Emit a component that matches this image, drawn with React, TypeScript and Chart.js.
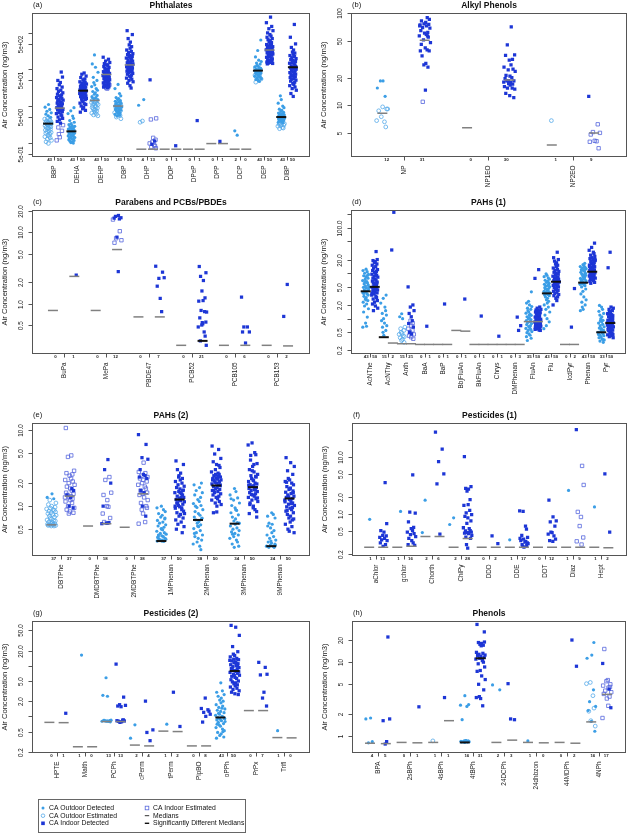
import React, { useEffect, useRef } from 'react';
import { Chart, registerables } from 'chart.js';
Chart.register(...registerables);

const FONT = '"Liberation Sans", Arial, Helvetica, sans-serif';
const COL_OUT = '#3b9ee6';
const COL_OUT_EST = '#55aaea';
const COL_IN = '#1d36d6';
const COL_IN_EST = '#5566dd';
const COL_MED = '#808080';
const COL_SIG = '#111111';

// horizontal jitter pattern (fractions of the jitter half-width)
const JIT = [0.12, -0.85, 0.47, -0.33, 0.91, -0.62, 0.05, 0.74, -0.18, -0.97, 0.36, 0.58, -0.49, 0.83, -0.07, -0.71, 0.22, 0.95, -0.41, 0.64, -0.26, 0.01, -0.88, 0.43, 0.79, -0.55, 0.17, -0.12, 0.69, -0.79, 0.31, -0.36, 0.88, -0.66, 0.52, -0.03, 0.27, -0.92, 0.61, -0.21, 0.98, -0.58, 0.09, 0.41, -0.74, 0.76, -0.45, 0.19, -0.14, 0.55];

// ---------------- (a) Phthalates ----------------
const A_CATS = ['BBP', 'DEHA', 'DEHP', 'DBP', 'DHP', 'DOP', 'DPeP', 'DPP', 'DCP', 'DEP', 'DIBP'];
const A_N_OUT = [43, 43, 43, 43, 4, 0, 0, 0, 2, 43, 43];
const A_N_IN = [50, 50, 50, 50, 13, 1, 1, 1, 0, 50, 50];
const A_OUT_DET = [
  [11, 9.3, 8.1, 7.2, 6.5, 6.0, 5.4, 4.9],
  [9.0, 7.4, 6.2, 5.3, 4.6, 4.0, 3.6, 3.3, 3.1, 2.9, 2.8, 2.7, 2.6, 2.5, 2.45, 2.35, 2.25, 2.2, 2.15, 2.1, 2.05, 2.0, 1.95, 1.9, 1.85, 1.8, 1.72, 1.68, 1.62, 1.58, 1.52, 1.48, 1.44, 1.38, 1.33, 1.28, 1.24, 1.2, 1.15, 1.1, 1.05, 1.0, 0.97],
  [250, 142, 115, 84, 61, 50, 44, 38, 34, 30, 27, 25, 23, 21, 19.5, 18, 17, 16, 15],
  [39, 30, 22, 19, 17, 16, 15, 14, 13.5, 13, 12.5, 12, 11.5, 11, 10.7, 10.4, 10.1, 9.8, 9.5, 9.2, 8.9, 8.6, 8.3, 8, 7.7, 7.4, 7.1, 6.8, 6.5, 6.2, 5.9, 5.6, 5.3],
  [15, 10.5],
  [], [], [],
  [2.1, 1.6],
  [640, 330, 220, 180, 165, 150, 140, 130, 124, 118, 112, 107, 102, 98, 95, 92, 89, 86, 83, 80, 77, 74, 71, 68, 65, 62, 59, 56, 53, 50, 47],
  [19, 15, 12, 10, 9, 8.2, 7.6, 7.1, 6.7, 6.4, 6.1, 5.9, 5.7, 5.5, 5.3, 5.2, 5.1, 5.0, 4.9, 4.8, 4.7, 4.6, 4.5, 4.4, 4.3, 4.2, 4.1, 4.0, 3.9, 3.8, 3.7, 3.6, 3.5],
];
const A_OUT_EST = [
  [4.6, 4.4, 4.2, 4.0, 3.9, 3.7, 3.6, 3.5, 3.4, 3.3, 3.3, 3.2, 3.1, 3.0, 2.9, 2.8, 2.7, 2.6, 2.5, 2.4, 2.3, 2.2, 2.1, 2.0, 1.9, 1.8, 1.7, 1.6, 1.5, 1.45, 1.35, 1.25, 1.15, 1.05, 0.95],
  [],
  [14.5, 14, 13.5, 13, 12.5, 12, 11.5, 11, 10.5, 10, 9.6, 9.2, 8.8, 8.4, 8, 7.6, 7.2, 6.8, 6.4, 6, 5.7, 5.4, 14.2, 12.8],
  [10, 9, 8.5, 7.5, 7, 6.6, 6, 5.5, 5, 4.5],
  [3.9, 3.6],
  [], [], [], [],
  [110, 100, 96, 90, 85, 80, 75, 70, 66, 60, 55, 45],
  [3.4, 3.3, 3.2, 3.1, 3.0, 2.9, 2.8, 2.6, 2.5, 2.4],
];
const A_IN_DET = [
  [85, 62, 50, 44, 38, 33, 30, 27, 25, 23, 21, 20, 19, 18, 17, 16, 15, 14.5, 14, 13, 12.5, 12, 11.5, 11, 10.5, 10, 9.7, 9.3, 9, 8.7, 8.4, 8.1, 7.8, 7.4, 7, 6.6, 6.2, 5.8, 5.4, 5, 4.6, 4.2, 3.8, 3.4],
  [80, 74, 66, 60, 55, 52, 49, 46, 44, 42, 40, 38, 37, 35, 34, 33, 32, 31, 30, 29, 28.5, 28, 27, 26.5, 26, 25, 24.5, 24, 23, 22, 21.5, 21, 20, 19, 18.5, 18, 17, 16, 15.5, 15, 14, 13, 12, 11.5, 11, 10, 9.2, 8.4, 7.6, 6.8],
  [216, 190, 170, 155, 145, 135, 128, 120, 114, 108, 103, 98, 94, 90, 87, 84, 81, 78, 76, 74, 72, 70, 68, 66, 64, 62, 60, 58, 56, 54, 52, 50, 48, 46, 45, 43, 41, 40, 38, 36, 35, 34, 33, 32],
  [1150, 900, 700, 560, 470, 420, 380, 340, 310, 290, 270, 255, 240, 228, 216, 205, 195, 185, 176, 168, 160, 152, 145, 140, 135, 130, 126, 122, 118, 114, 110, 106, 102, 98, 94, 90, 86, 82, 78, 74, 70, 66, 62, 58, 54, 50, 46, 42, 36, 31],
  [52, 1.1, 0.9],
  [0.82],
  [4.0],
  [1.08],
  [],
  [2700, 1900, 1500, 1300, 1150, 1000, 900, 820, 760, 700, 650, 610, 570, 540, 510, 480, 460, 440, 420, 400, 385, 370, 355, 345, 335, 325, 315, 305, 295, 285, 275, 265, 255, 245, 235, 225, 215, 205, 195, 185, 178, 170, 165, 160, 155, 150, 146, 142, 520, 390],
  [1700, 760, 500, 400, 340, 300, 280, 260, 240, 225, 210, 198, 186, 175, 165, 156, 148, 140, 133, 126, 120, 115, 110, 106, 102, 98, 94, 90, 86, 82, 78, 75, 72, 69, 66, 63, 60, 57, 54, 51, 48, 45, 42, 39, 36, 33, 30, 27, 22, 18.3],
];
const A_IN_EST = [
  [3.0, 2.6, 2.1, 1.7, 1.4, 1.15],
  [],
  [42, 38, 35, 33, 31, 30],
  [],
  [4.6, 4.3, 1.35, 1.2, 1.05, 0.95, 0.85, 0.8, 0.75, 0.7],
  [], [], [], [], [], [],
];
const A_MED_OUT = [3.3, 2.03, 14.2, 10, 0.66, 0.66, 0.66, 0.94, 0.66, 93, 5];
const A_MED_IN = [8.8, 26.3, 73, 133, 0.66, 0.66, 0.66, 0.94, 0.66, 340, 115];
const A_SIG_OUT = [1, 1, 0, 0, 0, 0, 0, 0, 0, 1, 1];
const A_SIG_IN = [0, 1, 0, 0, 0, 0, 0, 0, 0, 0, 1];
const A_Y_TICKS = [0.5, 1, 5, 10, 50, 100, 500, 1000];
const A_Y_LABELS = ['5e-01', '', '5e+00', '', '5e+01', '', '5e+02', ''];

// ---------------- (b) Alkyl Phenols ----------------
const B_CATS = ['NP', 'NP1EO', 'NP2EO'];
const B_N_OUT = [12, 0, 1];
const B_N_IN = [31, 30, 9];
const B_OUT_DET = [[18.4, 15.4, 12.5, 18.4], [], []];
const B_OUT_EST = [[9.1, 8.7, 9.6, 9.1, 7.5, 6.8, 6.6, 5.8], [], [6.8]];
const B_IN_DET = [
  [90, 86, 83, 80, 77, 76, 75, 73, 70, 69, 65, 62, 61, 59, 57, 55, 51.5, 48, 46, 42, 40, 39, 39, 34.5, 28.5, 27.5, 26, 14.6, 73, 57],
  [71.5, 45.5, 35.4, 35, 31.5, 31, 27.5, 26, 24.8, 24.3, 23.4, 21.2, 20.7, 20, 19.5, 18.4, 18.4, 17.7, 17.2, 17, 16.6, 15.9, 15.4, 15.4, 15, 13.5, 12.7, 12.1, 18.4, 17.8],
  [12.5],
];
const B_IN_EST = [[10.9], [], [6.2, 5.1, 5.0, 4.8, 4.1, 4.05, 4.0, 3.4]];
const B_MED_OUT = [8.2, 5.7, 3.7];
const B_MED_IN = [51, 18.8, 5.0];
const B_SIG_OUT = [0, 0, 0];
const B_SIG_IN = [0, 0, 0];
const B_Y_TICKS = [5, 10, 20, 50, 100];
const B_Y_LABELS = ['5', '10', '20', '50', '100'];

// ---------------- (c) Parabens and PCBs/PBDEs ----------------
const C_CATS = ['BuPa', 'MePa', 'PBDE47', 'PCB52', 'PCB105', 'PCB153'];
const C_N_OUT = [0, 0, 0, 0, 0, 0];
const C_N_IN = [1, 12, 7, 21, 6, 2];
const C_OUT_DET = [[], [], [], [], [], []];
const C_OUT_EST = [[], [], [], [], [], []];
const C_IN_DET = [
  [2.5],
  [17.1, 16.6, 15.9, 15.7, 15.3, 8.5, 2.8],
  [3.33, 2.75, 2.25, 2.3, 1.75, 1.18, 0.77],
  [3.3, 2.7, 2.4, 2.1, 1.5, 1.2, 1.1, 1.08, 0.77, 0.8, 0.76, 0.63, 0.52, 0.55, 0.5, 0.47, 0.4, 0.35, 0.3, 0.26, 0.54],
  [1.23, 0.47, 0.47, 0.4, 0.4, 0.28],
  [1.85, 0.66],
];
const C_IN_EST = [[], [15, 10.3, 8.2, 7.7, 7.1], [], [], [], []];
const C_MED_OUT = [0.8, 0.8, 0.65, 0.26, 0.26, 0.26];
const C_MED_IN = [2.4, 5.7, 0.65, 0.3, 0.26, 0.255];
const C_SIG_OUT = [0, 0, 0, 0, 0, 0];
const C_SIG_IN = [0, 0, 0, 1, 0, 0];
const C_Y_TICKS = [0.5, 1, 2, 5, 10, 20];
const C_Y_LABELS = ['0.5', '1.0', '2.0', '5.0', '10.0', '20.0'];

// ---------------- (d) PAHs (1) ----------------
const D_CATS = ['AcNThe', 'AcNThy', 'Anth', 'BaA', 'BaP', 'BbjFluAn', 'BkFluAn', 'Chrys', 'DMPhenan', 'FluAn', 'Flu', 'IcdPyr', 'Phenan', 'Pyr'];
const D_N_OUT = [43, 15, 15, 0, 0, 0, 0, 0, 0, 35, 43, 0, 43, 33];
const D_N_IN = [50, 2, 21, 1, 1, 1, 1, 1, 3, 50, 50, 2, 50, 50];
const D_OUT_DET = [
  [12.3, 11.5, 10.8, 10, 9.4, 8.8, 8.3, 7.8, 7.3, 6.9, 6.5, 6.1, 5.8, 5.5, 5.2, 4.9, 4.7, 4.5, 4.3, 4.1, 4.0, 3.9, 3.7, 3.5, 3.3, 3.1, 2.9, 2.7, 2.5, 2.3, 2.1, 1.9, 1.65, 1.4, 1.08, 0.8, 0.68, 0.65, 9, 6.3, 5, 3.6, 2.6],
  [3.3, 2.8, 2.2, 1.8, 1.5, 1.3, 1.2, 1.0, 0.9, 0.8, 0.7, 0.65, 0.55, 0.5, 0.43],
  [1.28, 1.1, 1.0],
  [], [], [], [], [], [],
  [3.9, 2.4, 2.2, 2.0, 1.85, 1.7, 1.6, 1.5, 1.4, 1.32, 1.25, 1.18, 1.1, 1.05, 1.0, 0.95, 0.9, 0.86, 0.82, 0.78, 0.74, 0.7, 0.67, 0.64, 0.61, 0.58, 0.55, 0.52, 0.49, 0.46, 0.43, 0.4, 0.37, 0.33, 1.2],
  [9.7, 9, 8.4, 7.9, 7.4, 7, 6.6, 6.3, 6, 5.7, 5.4, 5.2, 5, 4.8, 4.6, 4.4, 4.2, 4.0, 3.9, 3.8, 3.7, 3.6, 3.5, 3.4, 3.3, 3.2, 3.0, 2.8, 2.6, 2.4, 2.2, 2.0, 1.8, 1.6, 1.4, 1.2, 1.0, 0.85, 0.7, 0.6, 6.5, 5.5, 4.5],
  [],
  [16.5, 15.5, 14.5, 14, 13.5, 13, 12.5, 12, 11.5, 11, 10.5, 10, 9.6, 9.2, 8.8, 8.4, 8, 7.7, 7.4, 7.1, 6.8, 6.5, 6.3, 6.1, 5.9, 5.7, 5.5, 5.3, 5.0, 4.5, 4.0, 3.5, 3.0, 2.6, 2.3, 2.0, 1.8, 1.6, 1.5, 12, 9, 7, 6],
  [1.95, 1.8, 1.6, 1.45, 1.3, 1.2, 1.1, 1.0, 0.92, 0.85, 0.8, 0.75, 0.7, 0.66, 0.62, 0.58, 0.55, 0.52, 0.5, 0.48, 0.46, 0.44, 0.42, 0.4, 0.38, 0.36, 0.34, 0.32, 0.3, 0.9, 0.6, 0.45, 0.35],
];
const D_OUT_EST = [
  [], [],
  [0.65, 0.6, 0.55, 0.5, 0.47, 0.45, 0.42, 0.4, 0.38, 0.35, 0.33, 0.3],
  [], [], [], [], [], [], [], [], [], [], [],
];
const D_IN_DET = [
  [30, 20, 19, 18, 17, 16, 15, 14, 13, 12, 11.5, 11, 10.5, 10, 9.5, 9, 8.6, 8.2, 7.8, 7.4, 7, 6.7, 6.4, 6.1, 5.8, 5.5, 5.3, 5.1, 4.9, 4.7, 4.5, 4.3, 4.1, 3.9, 3.7, 3.5, 3.3, 3.1, 2.9, 2.7, 2.5, 2.3, 2.1, 1.9, 1.7, 1.5, 6, 5.2, 4.4, 3.6],
  [220, 32.5],
  [5.0, 2.0, 1.8, 1.5, 1.3, 1.1, 0.9, 0.78, 0.65, 0.5, 0.46],
  [0.68],
  [2.1],
  [2.7],
  [1.14],
  [0.41],
  [1.08, 0.7, 0.55],
  [12, 7.7, 1.8, 1.7, 1.6, 1.55, 1.5, 1.45, 1.4, 1.35, 1.3, 1.25, 1.2, 1.16, 1.12, 1.08, 1.04, 1.0, 0.97, 0.94, 0.91, 0.88, 0.86, 0.84, 0.82, 0.8, 0.78, 0.76, 0.74, 0.72, 0.7, 0.68, 0.66, 0.64, 0.62, 0.6, 0.58, 0.56, 0.55, 1.1, 0.95, 0.85, 0.75, 0.65, 1.28, 1.02, 0.9, 0.8, 0.7, 0.6],
  [29, 22, 20, 18.5, 17, 16, 15, 14, 13, 12.2, 11.5, 11, 10.5, 10, 9.5, 9, 8.6, 8.2, 7.9, 7.6, 7.3, 7, 6.8, 6.6, 6.4, 6.2, 6, 5.8, 5.6, 5.4, 5.2, 5, 4.8, 4.6, 4.4, 4.2, 4, 3.8, 3.6, 3.4, 3.2, 3, 2.8, 2.5, 2.0, 8, 7, 6.5, 5.5, 4.5],
  [4.6, 0.65],
  [46, 37, 32, 29, 27, 25, 23.5, 22, 21, 20, 19, 18, 17.2, 16.5, 15.8, 15.1, 14.5, 13.9, 13.3, 12.8, 12.3, 11.8, 11.4, 11, 10.6, 10.2, 9.9, 9.6, 9.3, 9, 8.7, 8.4, 8.1, 7.8, 7.5, 7.2, 6.9, 6.6, 6.3, 6.0, 12, 11, 10, 9, 14, 16, 18, 20, 8.5, 7.6],
  [29, 13.2, 1.8, 1.7, 1.6, 1.5, 1.42, 1.35, 1.28, 1.22, 1.16, 1.1, 1.05, 1.0, 0.96, 0.92, 0.88, 0.85, 0.82, 0.8, 0.78, 0.76, 0.74, 0.72, 0.7, 0.68, 0.66, 0.64, 0.62, 0.6, 0.58, 0.56, 0.54, 0.52, 0.5, 0.48, 0.46, 0.44, 0.42, 0.4, 0.38, 1.3, 1.15, 1.0, 0.9, 0.8, 0.7, 0.65, 0.55, 0.45],
];
const D_IN_EST = [
  [], [],
  [0.9, 0.8, 0.7, 0.6, 0.55, 0.5, 0.45, 0.42, 0.39, 0.36],
  [], [], [], [], [], [], [], [], [], [], [],
];
const D_MED_OUT = [4.0, 0.39, 0.28, 0.27, 0.27, 0.55, 0.27, 0.27, 0.27, 0.86, 3.6, 0.27, 6.2, 0.5];
const D_MED_IN = [5.0, 0.29, 0.28, 0.27, 0.27, 0.53, 0.27, 0.27, 0.27, 0.86, 6.5, 0.27, 10.8, 0.8];
const D_SIG_OUT = [1, 1, 0, 0, 0, 0, 0, 0, 0, 0, 1, 0, 1, 1];
const D_SIG_IN = [1, 0, 0, 0, 0, 0, 0, 0, 0, 0, 1, 0, 1, 1];
const D_Y_TICKS = [0.2, 0.5, 1, 2, 5, 10, 20, 50, 100, 200];
const D_Y_LABELS = ['0.2', '0.5', '', '2.0', '5.0', '', '20.0', '', '100.0', ''];

// ---------------- (e) PAHs (2) ----------------
const E_CATS = ['DBTPhe', 'DMDBTPhe', '2MDBTPhe', '1MPhenan', '2MPhenan', '3MPhenan', '9MPhenan'];
const E_N_OUT = [37, 0, 0, 37, 38, 34, 24];
const E_N_IN = [37, 18, 38, 50, 50, 50, 50];
const E_OUT_DET = [
  [1.45, 1.3, 1.25],
  [], [],
  [1.0, 0.95, 0.9, 0.85, 0.8, 0.76, 0.72, 0.68, 0.65, 0.62, 0.6, 0.57, 0.55, 0.53, 0.51, 0.49, 0.47, 0.45, 0.44, 0.43, 0.42, 0.41, 0.4, 0.39, 0.38, 0.37, 0.36, 0.36, 0.35, 0.35, 0.35, 0.35, 0.36, 0.37, 0.4, 0.5, 0.7],
  [2.0, 1.9, 1.75, 1.6, 1.5, 1.4, 1.3, 1.22, 1.15, 1.08, 1.02, 0.96, 0.9, 0.85, 0.8, 0.76, 0.72, 0.69, 0.66, 0.63, 0.6, 0.57, 0.54, 0.51, 0.48, 0.45, 0.42, 0.4, 0.38, 0.36, 0.34, 0.32, 0.3, 0.27, 1.0, 0.7, 0.55, 0.44],
  [1.7, 1.55, 1.4, 1.28, 1.2, 1.1, 1.02, 0.95, 0.88, 0.82, 0.77, 0.72, 0.68, 0.64, 0.61, 0.58, 0.55, 0.52, 0.5, 0.48, 0.46, 0.44, 0.42, 0.4, 0.38, 0.36, 0.34, 0.32, 0.3, 0.29, 1.25, 0.9, 0.6, 0.43],
  [0.82, 0.78, 0.74, 0.7, 0.6, 0.58, 0.52, 0.48, 0.45, 0.42, 0.4, 0.38, 0.36, 0.34, 0.33, 0.32, 0.31, 0.3, 0.3, 0.29, 0.29, 0.31, 0.35, 0.55],
];
const E_OUT_EST = [
  [1.2, 1.1, 1.05, 1.0, 0.97, 0.94, 0.92, 0.9, 0.88, 0.86, 0.84, 0.82, 0.8, 0.78, 0.76, 0.74, 0.72, 0.7, 0.68, 0.66, 0.65, 0.64, 0.62, 0.61, 0.6, 0.59, 0.58, 0.57, 0.57, 0.56, 0.56, 0.55, 0.55, 0.58],
  [], [], [], [], [], [],
];
const E_IN_DET = [
  [1.7, 1.6, 1.4, 1.3, 1.0, 0.95],
  [4.06, 3.0, 2.0, 1.0, 0.61, 0.6, 0.6, 0.59],
  [8.6, 6.4, 4.3, 4.1, 3.0, 2.6, 2.5, 2.4, 2.3, 1.6, 1.5, 1.0, 0.74],
  [3.9, 3.5, 3.0, 2.7, 2.5, 2.3, 2.2, 2.1, 2.0, 1.9, 1.82, 1.75, 1.68, 1.62, 1.56, 1.5, 1.45, 1.4, 1.35, 1.3, 1.26, 1.22, 1.18, 1.14, 1.1, 1.06, 1.02, 0.98, 0.94, 0.9, 0.86, 0.82, 0.78, 0.74, 0.7, 0.66, 0.62, 0.58, 0.54, 0.5, 0.45, 1.2, 1.3, 1.0, 1.6, 2.4, 0.8, 1.1, 1.5, 0.95],
  [6.1, 5.5, 4.8, 4.2, 3.8, 3.5, 3.2, 3.0, 2.8, 2.7, 2.6, 2.5, 2.4, 2.35, 2.3, 2.25, 2.2, 2.15, 2.1, 2.05, 2.0, 1.95, 1.9, 1.85, 1.8, 1.75, 1.7, 1.65, 1.6, 1.55, 1.5, 1.45, 1.4, 1.35, 1.3, 1.25, 1.2, 1.15, 1.1, 1.05, 0.82, 0.84, 2.45, 2.2, 1.9, 1.6, 1.3, 2.6, 3.4, 1.0],
  [6.7, 6.3, 5.0, 4.7, 4.0, 3.6, 3.3, 3.0, 2.8, 2.6, 2.5, 2.4, 2.3, 2.2, 2.1, 2.0, 1.95, 1.9, 1.85, 1.8, 1.75, 1.7, 1.65, 1.6, 1.55, 1.5, 1.45, 1.4, 1.35, 1.3, 1.25, 1.2, 1.15, 1.1, 1.0, 0.9, 0.8, 0.72, 4.6, 3.5, 2.9, 2.45, 2.15, 1.88, 1.62, 1.42, 1.28, 1.05, 0.95, 0.85],
  [4.3, 3.7, 3.3, 2.9, 2.6, 2.3, 2.2, 2.1, 2.0, 1.9, 1.8, 1.72, 1.65, 1.58, 1.52, 1.46, 1.4, 1.35, 1.3, 1.26, 1.22, 1.18, 1.14, 1.1, 1.06, 1.02, 0.98, 0.94, 0.9, 0.86, 0.82, 0.78, 0.74, 0.7, 0.66, 0.62, 0.58, 0.54, 0.5, 0.45, 2.05, 1.7, 1.5, 1.32, 1.2, 1.08, 0.96, 0.88, 0.68, 0.47],
];
const E_IN_EST = [
  [10.5, 4.6, 4.4, 2.9, 2.7, 2.6, 2.5, 2.3, 2.2, 2.1, 2.0, 1.9, 1.8, 1.7, 1.6, 1.5, 1.45, 1.4, 1.35, 1.3, 1.25, 1.2, 1.15, 1.1, 1.0, 0.95, 0.9, 0.85, 0.82, 0.8, 1.3],
  [2.4, 2.2, 1.5, 1.4, 1.0, 0.98, 0.8, 0.7, 0.62, 1.2],
  [3.7, 2.8, 2.7, 2.5, 2.4, 2.3, 2.2, 2.1, 2.0, 1.9, 1.8, 1.7, 1.6, 1.5, 1.45, 1.4, 1.3, 1.2, 1.1, 1.0, 0.9, 0.8, 0.59, 0.62, 0.95],
  [], [], [], [],
];
const E_MED_OUT = [0.57, 0.55, 0.53, 0.35, 0.66, 0.59, 0.3];
const E_MED_IN = [1.35, 0.59, 1.45, 1.22, 1.86, 1.77, 1.26];
const E_SIG_OUT = [0, 0, 0, 1, 1, 1, 1];
const E_SIG_IN = [0, 0, 0, 1, 1, 1, 1];
const E_Y_TICKS = [0.5, 1, 2, 5, 10];
const E_Y_LABELS = ['0.5', '1.0', '2.0', '5.0', '10.0'];

// ---------------- (f) Pesticides (1) ----------------
const F_CATS = ['aChlor', 'gchlor', 'Chorth', 'ChlPy', 'DDD', 'DDE', 'DDT', 'Diaz', 'Hept'];
const F_N_OUT = [1, 1, 2, 2, 0, 1, 0, 1, 1];
const F_N_IN = [13, 16, 6, 28, 2, 17, 12, 9, 2];
const F_OUT_DET = [[0.8], [1.1], [1.73, 0.47], [0.85, 0.65], [], [0.35], [], [2.57], [1.32]];
const F_OUT_EST = [[], [], [], [], [], [], [], [], []];
const F_IN_DET = [
  [3.5, 0.67, 0.51, 0.48, 0.42, 0.41, 0.385, 0.37, 0.35, 0.34, 0.31, 0.29, 0.27],
  [4.8, 1.07, 1.03, 0.72, 0.58, 0.55, 0.51, 0.48, 0.45, 0.43, 0.4, 0.37, 0.34, 0.31, 0.29, 0.28],
  [27, 13.6, 8.2, 5, 3.35, 0.44],
  [10, 3.0, 2.8, 2.7, 2.5, 1.77, 1.45, 1.4, 1.15, 1.04, 0.97, 0.9, 0.85, 0.75, 0.68, 0.57, 0.55, 0.51, 0.5, 0.48, 0.47, 0.46, 0.45, 0.42, 0.39, 0.37, 0.29, 0.25],
  [0.41, 0.3],
  [1.1, 1.13, 0.61, 0.54, 0.42, 0.385, 0.36, 0.34, 0.32, 0.3, 0.29, 0.28, 0.27, 0.26, 0.37, 0.33, 0.31],
  [1.73, 0.88, 0.75, 0.72, 0.61, 0.48, 0.47, 0.44, 0.41, 0.36, 0.34, 0.33],
  [29.8],
  [5.0, 0.48],
];
const F_IN_EST = [[], [], [], [], [], [], [], [6.9, 3.2, 1.08, 0.88, 0.61, 0.385, 0.33, 0.29], []];
const F_MED_OUT = [0.26, 0.26, 0.4, 0.26, 0.26, 0.26, 0.26, 0.26, 0.26];
const F_MED_IN = [0.26, 0.27, 0.4, 0.37, 0.26, 0.26, 0.26, 0.26, 0.255];
const F_SIG_OUT = [0, 0, 0, 0, 0, 0, 0, 0, 0];
const F_SIG_IN = [0, 0, 0, 0, 0, 0, 0, 0, 0];
const F_Y_TICKS = [0.2, 0.5, 1, 2, 5, 10, 20];
const F_Y_LABELS = ['0.2', '0.5', '1.0', '2.0', '5.0', '10.0', ''];

// ---------------- (g) Pesticides (2) ----------------
const G_CATS = ['HPTE', 'Malth', 'PCPh', 'cPerm', 'tPerm', 'PipBO', 'oPPh', 'PrPx', 'Trifl'];
const G_N_OUT = [0, 1, 13, 2, 1, 0, 43, 0, 1];
const G_N_IN = [1, 0, 13, 4, 2, 8, 50, 7, 0];
const G_OUT_DET = [
  [],
  [16.3],
  [5.8, 2.6, 2.5, 0.84, 0.83, 0.82, 0.81, 0.8, 0.8, 0.79, 0.78, 0.83, 0.81],
  [0.68, 0.37],
  [0.7],
  [],
  [4.6, 3.2, 3.0, 2.7, 2.5, 2.3, 2.1, 2.0, 1.85, 1.7, 1.6, 1.5, 1.4, 1.32, 1.25, 1.18, 1.1, 1.05, 1.0, 0.97, 0.94, 0.91, 0.88, 0.85, 0.82, 0.79, 0.76, 0.72, 0.68, 0.64, 0.6, 0.56, 0.52, 0.48, 0.45, 0.42, 0.39, 0.37, 1.45, 1.15, 0.9, 0.7, 0.5],
  [],
  [0.52],
];
const G_OUT_EST = [[], [], [], [], [], [], [], [], []];
const G_IN_DET = [
  [1.15],
  [],
  [10.8, 2.4, 1.7, 1.65, 1.6, 1.55, 0.84, 0.82, 0.81, 0.8, 0.78, 0.76, 0.85],
  [2.0, 0.54, 0.48, 0.33],
  [3.0, 0.63],
  [2.3, 1.43, 1.35, 1.26, 1.2, 1.1, 1.0, 0.77],
  [63, 58, 40, 24, 19, 17, 16, 15, 14, 13.2, 12.5, 12, 11.5, 11, 10.5, 10, 9.6, 9.2, 8.8, 8.4, 8, 7.7, 7.4, 7.1, 6.8, 6.5, 6.2, 5.9, 5.6, 5.3, 5.0, 4.8, 4.6, 4.4, 4.2, 4.0, 3.8, 3.6, 3.4, 3.2, 3.0, 2.8, 2.7, 13.5, 12.8, 11.2, 9.8, 8.6, 7.6, 6.4],
  [11.7, 9.3, 6.8, 6.6, 3.0, 2.3, 1.6],
  [],
];
const G_IN_EST = [[], [], [], [], [], [], [], [], []];
const G_MED_OUT = [0.76, 0.25, 0.79, 0.27, 0.51, 0.26, 0.95, 1.3, 0.38];
const G_MED_IN = [0.75, 0.25, 0.79, 0.26, 0.5, 0.26, 7.9, 1.3, 0.375];
const G_SIG_OUT = [0, 0, 0, 0, 0, 0, 1, 0, 0];
const G_SIG_IN = [0, 0, 0, 0, 0, 0, 1, 0, 0];
const G_Y_TICKS = [0.2, 0.5, 1, 2, 5, 10, 20, 50];
const G_Y_LABELS = ['0.2', '0.5', '', '2.0', '5.0', '', '20.0', '50.0'];

// ---------------- (h) Phenols ----------------
const H_CATS = ['BPA', '2sBPh', '4sBPh', '4tBPh', '24DCPh', '24dhbzon', '44MDPh', '4NPh'];
const H_N_OUT = [4, 0, 1, 16, 2, 1, 0, 16];
const H_N_IN = [5, 1, 1, 31, 3, 0, 2, 17];
const H_OUT_DET = [
  [1.74, 1.69, 0.83, 0.8],
  [],
  [],
  [3.5, 2.6, 2.5, 2.65, 1.65, 0.86, 0.85, 0.85, 0.84, 0.84, 0.83, 0.83, 0.82, 0.82, 0.81, 0.86],
  [4.2, 4.9],
  [0.85],
  [],
  [18.5, 12.5, 11.3, 4.2, 2.9, 2.5, 2.2, 1.57, 1.15],
];
const H_OUT_EST = [[], [], [0.85], [], [], [], [], [5.3, 5.1, 3.5, 2.37, 2.15, 1.35, 1.6]];
const H_IN_DET = [
  [22, 1.69, 1.6, 0.83, 0.77],
  [2.47],
  [3.3],
  [32.6, 25.8, 18.5, 18, 17.5, 17, 16.7, 13.6, 13.2, 12.8, 12.5, 12.3, 12, 11.6, 11.3, 11, 10.5, 10, 9.5, 8.6, 7.7, 7.5, 6.5, 5.8, 5.0, 4.2, 3.4, 3.2, 3.3, 2.55, 18.8],
  [5.1, 1.65, 1.69],
  [],
  [20, 8.8],
  [9.6, 4.3, 2.4],
];
const H_IN_EST = [[], [], [], [], [], [], [], [15.1, 5.7, 5.5, 5.0, 4.8, 4.5, 4.1, 3.9, 3.7, 3.4, 3.2, 2.55, 1.74, 4.6]];
const H_MED_OUT = [0.79, 0.81, 0.81, 0.81, 0.81, 0.81, 0.81, 1.54];
const H_MED_IN = [0.78, 0.8, 1.6, 11.3, 0.87, 0.8, 0.79, 3.65];
const H_SIG_OUT = [0, 0, 0, 1, 0, 0, 0, 0];
const H_SIG_IN = [0, 0, 0, 1, 0, 0, 0, 0];
const H_Y_TICKS = [1, 2, 5, 10, 20];
const H_Y_LABELS = ['1', '2', '5', '10', '20'];

const LEGEND_ITEMS = ['CA Outdoor Detected', 'CA Outdoor Estimated', 'CA Indoor Detected', 'CA Indoor Estimated', 'Medians', 'Significantly Different Medians'];

const xr = (n: number) => [0.5 - 0.04 * n, n + 0.5 + 0.04 * n];

const PANELS: any[] = [
  { tag: '(a)', title: 'Phthalates', cats: A_CATS, nOut: A_N_OUT, nIn: A_N_IN, od: A_OUT_DET, oe: A_OUT_EST, id: A_IN_DET, ie: A_IN_EST, mo: A_MED_OUT, mi: A_MED_IN, so: A_SIG_OUT, si: A_SIG_IN, yt: A_Y_TICKS, yl: A_Y_LABELS, yMin: 0.43, yMax: 3500, jit: 3.5, box: { left: 0, top: 0, w: 316, h: 200 }, pad: { left: 32, top: 13, right: 4, bottom: 44 } },
  { tag: '(b)', title: 'Alkyl Phenols', cats: B_CATS, nOut: B_N_OUT, nIn: B_N_IN, od: B_OUT_DET, oe: B_OUT_EST, id: B_IN_DET, ie: B_IN_EST, mo: B_MED_OUT, mi: B_MED_IN, so: B_SIG_OUT, si: B_SIG_IN, yt: B_Y_TICKS, yl: B_Y_LABELS, yMin: 2.8, yMax: 101, jit: 6, box: { left: 316, top: 0, w: 316, h: 200 }, pad: { left: 35, top: 13, right: 1, bottom: 44 } },
  { tag: '(c)', title: 'Parabens and PCBs/PBDEs', cats: C_CATS, nOut: C_N_OUT, nIn: C_N_IN, od: C_OUT_DET, oe: C_OUT_EST, id: C_IN_DET, ie: C_IN_EST, mo: C_MED_OUT, mi: C_MED_IN, so: C_SIG_OUT, si: C_SIG_IN, yt: C_Y_TICKS, yl: C_Y_LABELS, yMin: 0.203, yMax: 20.4, jit: 4.5, box: { left: 0, top: 190, w: 316, h: 224 }, pad: { left: 32, top: 20, right: 4, bottom: 61 } },
  { tag: '(d)', title: 'PAHs (1)', cats: D_CATS, nOut: D_N_OUT, nIn: D_N_IN, od: D_OUT_DET, oe: D_OUT_EST, id: D_IN_DET, ie: D_IN_EST, mo: D_MED_OUT, mi: D_MED_IN, so: D_SIG_OUT, si: D_SIG_IN, yt: D_Y_TICKS, yl: D_Y_LABELS, yMin: 0.175, yMax: 247, jit: 3.2, box: { left: 316, top: 190, w: 316, h: 224 }, pad: { left: 35, top: 20, right: 1, bottom: 61 } },
  { tag: '(e)', title: 'PAHs (2)', cats: E_CATS, nOut: E_N_OUT, nIn: E_N_IN, od: E_OUT_DET, oe: E_OUT_EST, id: E_IN_DET, ie: E_IN_EST, mo: E_MED_OUT, mi: E_MED_IN, so: E_SIG_OUT, si: E_SIG_IN, yt: E_Y_TICKS, yl: E_Y_LABELS, yMin: 0.23, yMax: 12.2, jit: 5, box: { left: 0, top: 400, w: 316, h: 214 }, pad: { left: 32, top: 23, right: 4, bottom: 59 } },
  { tag: '(f)', title: 'Pesticides (1)', cats: F_CATS, nOut: F_N_OUT, nIn: F_N_IN, od: F_OUT_DET, oe: F_OUT_EST, id: F_IN_DET, ie: F_IN_EST, mo: F_MED_OUT, mi: F_MED_IN, so: F_SIG_OUT, si: F_SIG_IN, yt: F_Y_TICKS, yl: F_Y_LABELS, yMin: 0.19, yMax: 38.9, jit: 4.5, box: { left: 316, top: 400, w: 316, h: 214 }, pad: { left: 36, top: 23, right: 1, bottom: 59 } },
  { tag: '(g)', title: 'Pesticides (2)', cats: G_CATS, nOut: G_N_OUT, nIn: G_N_IN, od: G_OUT_DET, oe: G_OUT_EST, id: G_IN_DET, ie: G_IN_EST, mo: G_MED_OUT, mi: G_MED_IN, so: G_SIG_OUT, si: G_SIG_IN, yt: G_Y_TICKS, yl: G_Y_LABELS, yMin: 0.197, yMax: 77, jit: 5, box: { left: 0, top: 600, w: 316, h: 233 }, pad: { left: 32, top: 21, right: 4, bottom: 81 }, legend: true },
  { tag: '(h)', title: 'Phenols', cats: H_CATS, nOut: H_N_OUT, nIn: H_N_IN, od: H_OUT_DET, oe: H_OUT_EST, id: H_IN_DET, ie: H_IN_EST, mo: H_MED_OUT, mi: H_MED_IN, so: H_SIG_OUT, si: H_SIG_IN, yt: H_Y_TICKS, yl: H_Y_LABELS, yMin: 0.636, yMax: 36.3, jit: 5, box: { left: 316, top: 600, w: 316, h: 233 }, pad: { left: 36, top: 21, right: 1, bottom: 81 } },
];

function makeDatasets(p: any) {
  const n = p.cats.length;
  const [xMin, xMax] = xr(n);
  const jw = (p.jit * (xMax - xMin)) / 280;
  const off = 0.25;
  const od: any[] = [], oe: any[] = [], id: any[] = [], ie: any[] = [], mg: any[] = [], mb: any[] = [];
  for (let i = 0; i < n; i++) {
    const cx = i + 1;
    let k = i * 7;
    const push = (arr: any[], vals: number[], side: number) => {
      vals.forEach((v) => {
        arr.push({ x: cx + side * off + JIT[k % JIT.length] * jw, y: v });
        k++;
      });
    };
    push(od, p.od[i], -1);
    push(oe, p.oe[i], -1);
    k = i * 7 + 23;
    push(id, p.id[i], 1);
    push(ie, p.ie[i], 1);
    (p.so[i] ? mb : mg).push({ x: cx - off, y: p.mo[i] });
    (p.si[i] ? mb : mg).push({ x: cx + off, y: p.mi[i] });
  }
  return [
    { label: 'Significantly Different Medians', data: mb, pointStyle: 'line', pointRadius: 5, borderColor: COL_SIG, pointBorderColor: COL_SIG, pointBorderWidth: 2 },
    { label: 'Medians', data: mg, pointStyle: 'line', pointRadius: 5, borderColor: COL_MED, pointBorderColor: COL_MED, pointBorderWidth: 1.5 },
    { label: 'CA Outdoor Detected', data: od, pointStyle: 'circle', pointRadius: 1.6, pointBackgroundColor: COL_OUT, backgroundColor: COL_OUT, pointBorderWidth: 0, borderWidth: 0 },
    { label: 'CA Outdoor Estimated', data: oe, pointStyle: 'circle', pointRadius: 1.9, pointBackgroundColor: 'rgba(0,0,0,0)', pointBorderColor: COL_OUT_EST, borderColor: COL_OUT_EST, pointBorderWidth: 0.8 },
    { label: 'CA Indoor Detected', data: id, pointStyle: 'rect', pointRadius: 2.3, pointBackgroundColor: COL_IN, backgroundColor: COL_IN, pointBorderWidth: 0, borderWidth: 0 },
    { label: 'CA Indoor Estimated', data: ie, pointStyle: 'rect', pointRadius: 2.4, pointBackgroundColor: 'rgba(0,0,0,0)', pointBorderColor: COL_IN_EST, borderColor: COL_IN_EST, pointBorderWidth: 0.8 },
  ];
}

function makeDeco(p: any) {
  return {
    id: 'deco',
    afterDraw(chart: any) {
      const { ctx, chartArea: a, scales } = chart;
      const xs = scales.x;
      const ys = scales.y;
      ctx.save();
      ctx.strokeStyle = '#555';
      ctx.lineWidth = 1;
      const L = Math.round(a.left) + 0.5, T = Math.round(a.top) + 0.5;
      const R = Math.round(a.right) + 0.5, B = Math.round(a.bottom) + 0.5;
      ctx.strokeRect(L, T, R - L, B - T);
      ctx.fillStyle = '#222';
      p.yt.forEach((t: number, i: number) => {
        const py = Math.round(ys.getPixelForValue(t)) + 0.5;
        ctx.beginPath();
        ctx.moveTo(L - 4, py);
        ctx.lineTo(L, py);
        ctx.stroke();
        const lab = p.yl[i];
        if (lab) {
          ctx.save();
          ctx.translate(L - 11, py);
          ctx.rotate(-Math.PI / 2);
          ctx.font = `6.3px ${FONT}`;
          ctx.textAlign = 'center';
          ctx.textBaseline = 'middle';
          ctx.fillText(lab, 0, 0);
          ctx.restore();
        }
      });
      ctx.save();
      ctx.translate(L - 28, (T + B) / 2);
      ctx.rotate(-Math.PI / 2);
      ctx.font = `7.6px ${FONT}`;
      ctx.textAlign = 'center';
      ctx.textBaseline = 'middle';
      ctx.fillText('Air Concentration (ng/m3)', 0, 0);
      ctx.restore();
      const unit = Math.abs(xs.getPixelForValue(2) - xs.getPixelForValue(1));
      const nOff = Math.max(4.2, 0.21 * unit);
      p.cats.forEach((c: string, i: number) => {
        const px = Math.round(xs.getPixelForValue(i + 1)) + 0.5;
        ctx.beginPath();
        ctx.moveTo(px, B);
        ctx.lineTo(px, B + 4);
        ctx.stroke();
        ctx.font = `bold 4.4px ${FONT}`;
        ctx.textAlign = 'center';
        ctx.textBaseline = 'middle';
        ctx.fillText(String(p.nOut[i]), px - nOff, B + 3.5);
        ctx.fillText(String(p.nIn[i]), px + nOff, B + 3.5);
        ctx.save();
        ctx.translate(px, B + 9);
        ctx.rotate(-Math.PI / 2);
        ctx.font = `6.4px ${FONT}`;
        ctx.textAlign = 'right';
        ctx.textBaseline = 'middle';
        ctx.fillText(c, 0, 0);
        ctx.restore();
      });
      ctx.fillStyle = '#111';
      ctx.font = `bold 8.5px ${FONT}`;
      ctx.textAlign = 'center';
      ctx.textBaseline = 'middle';
      ctx.fillText(p.title, (L + R) / 2, T - 7.5);
      ctx.font = `7.5px ${FONT}`;
      ctx.textAlign = 'left';
      ctx.fillText(p.tag, L + 0.5, T - 9);
      if (p.legend) {
        const lx = 38.5, ly = 199.5, lw = 207, lh = 33;
        ctx.strokeStyle = '#666';
        ctx.lineWidth = 1;
        ctx.strokeRect(lx, ly, lw, lh);
        ctx.font = `6.8px ${FONT}`;
        ctx.textAlign = 'left';
        ctx.textBaseline = 'middle';
        ctx.fillStyle = '#111';
        const rows = [ly + 8.5, ly + 16.2, ly + 23.8];
        const cols = [lx + 4.5, lx + 108.5];
        LEGEND_ITEMS.forEach((txt, i) => {
          const col = i < 3 ? 0 : 1;
          const row = i % 3;
          const mx = cols[col];
          const my = rows[row];
          ctx.save();
          if (i === 0) {
            ctx.fillStyle = COL_OUT;
            ctx.beginPath(); ctx.arc(mx, my, 1.5, 0, Math.PI * 2); ctx.fill();
          } else if (i === 1) {
            ctx.strokeStyle = COL_OUT_EST; ctx.lineWidth = 0.8;
            ctx.beginPath(); ctx.arc(mx, my, 1.8, 0, Math.PI * 2); ctx.stroke();
          } else if (i === 2) {
            ctx.fillStyle = COL_IN;
            ctx.fillRect(mx - 1.8, my - 1.8, 3.6, 3.6);
          } else if (i === 3) {
            ctx.strokeStyle = COL_IN_EST; ctx.lineWidth = 0.8;
            ctx.strokeRect(mx - 1.8, my - 1.8, 3.6, 3.6);
          } else {
            ctx.strokeStyle = i === 4 ? '#333' : COL_SIG; ctx.lineWidth = i === 4 ? 1 : 1.4;
            ctx.beginPath(); ctx.moveTo(mx - 2.2, my); ctx.lineTo(mx + 2.2, my); ctx.stroke();
          }
          ctx.restore();
          ctx.fillText(txt, mx + 6, my);
        });
      }
      ctx.restore();
    },
  };
}

function Panel({ p }: { p: any }) {
  const ref = useRef<HTMLCanvasElement | null>(null);
  useEffect(() => {
    const n = p.cats.length;
    const [xMin, xMax] = xr(n);
    const chart = new Chart(ref.current as HTMLCanvasElement, {
      type: 'scatter',
      data: { datasets: makeDatasets(p) as any },
      options: {
        animation: false,
        responsive: false,
        devicePixelRatio: 1,
        events: [],
        layout: { padding: p.pad },
        plugins: { legend: { display: false }, tooltip: { enabled: false } },
        scales: {
          x: { type: 'linear', min: xMin, max: xMax, display: false },
          y: { type: 'logarithmic', min: p.yMin, max: p.yMax, display: false },
        },
      } as any,
      plugins: [makeDeco(p) as any],
    });
    return () => chart.destroy();
  }, [p]);
  const b = p.box;
  return (
    <canvas
      ref={ref}
      width={b.w}
      height={b.h}
      style={{ position: 'absolute', left: b.left, top: b.top, width: b.w, height: b.h }}
    />
  );
}

export default function App() {
  return (
    <div style={{ position: 'absolute', left: 0, top: 0, width: 632, height: 833, background: '#fff', overflow: 'hidden' }}>
      {PANELS.map((p, i) => (
        <Panel key={i} p={p} />
      ))}
    </div>
  );
}
